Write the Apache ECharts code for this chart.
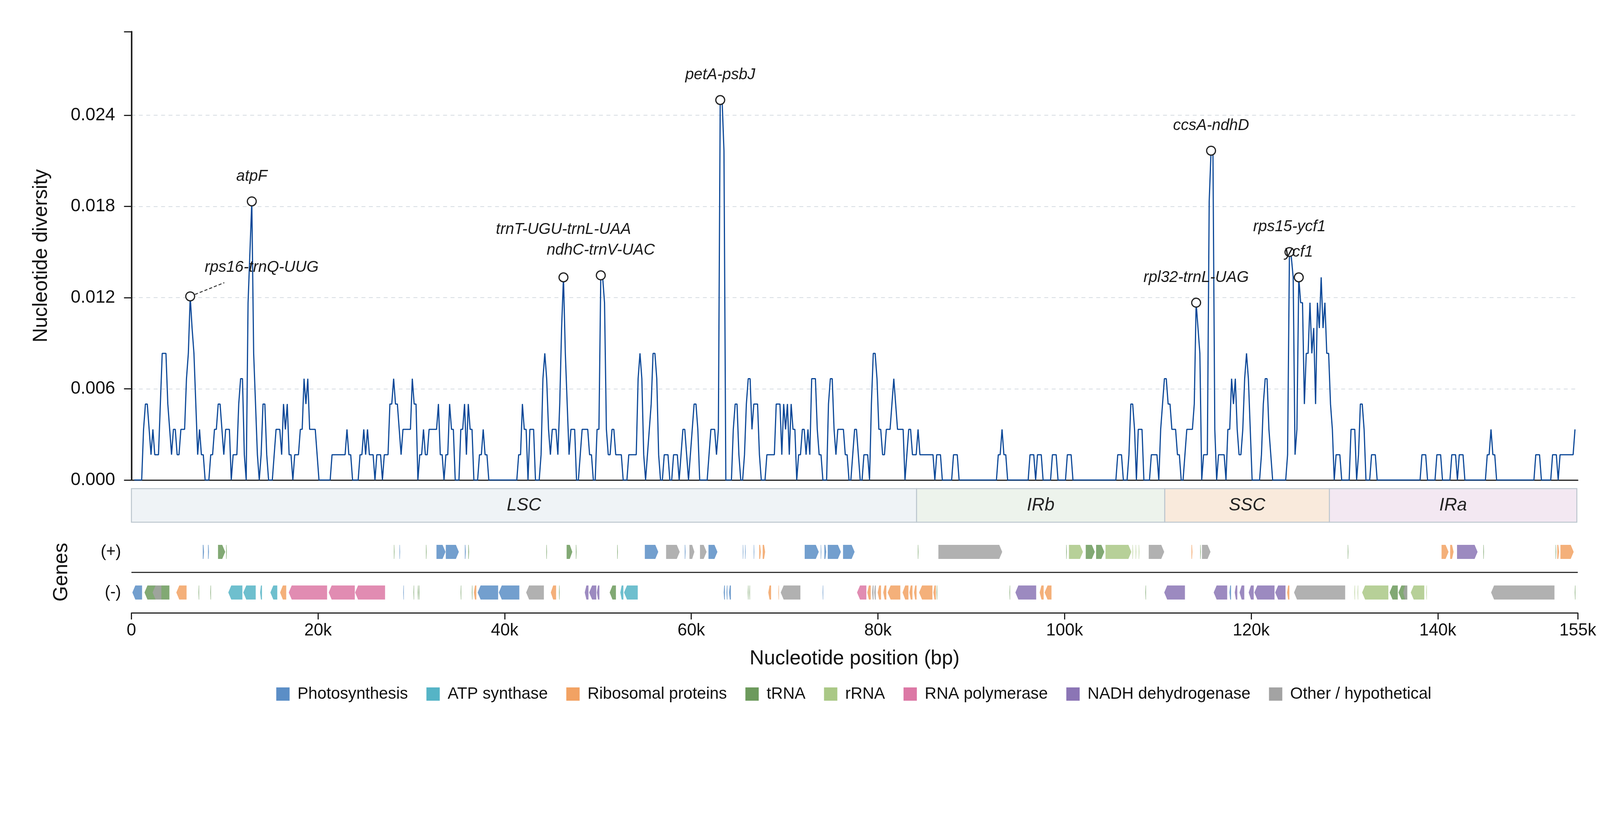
<!DOCTYPE html>
<html>
<head>
<meta charset="utf-8">
<title>Nucleotide diversity along the plastome</title>
<script src="https://cdn.jsdelivr.net/npm/echarts@6/dist/echarts.min.js"></script>
<style>
  html, body { margin: 0; padding: 0; background: #fff; overflow: hidden; }
  #chart { width: 100vw; height: 100vh; }
</style>
</head>
<body>
<div id="chart"></div>
<script>
// Sliding window: 600 bp windows, 200 bp step, first window centred at 300 bp.
// Values are differences per window (pi = diffs / 600).
const WINDOW_BP = 600;
const STEP_BP = 200;
const FIRST_MID_BP = 300;

const diffs000 = [
  0,0,0,0,0,2,3,3,2,1, 2,1,1,1,3,5,5,5,3,2,
  1,2,2,1,1,2,2,2,4,5, 7.25,6,5,3,1,2,1,1,0,0,
  0,1,1,2,2,3,3,2,1,2, 2,2,0,1,1,1,3,4,4,1,
  0,7,9,11,5,3,1,0,1,3, 3,1,0,0,0,1,2,2,2,1,
  3,2,3,1,1,0,1,1,1,2, 2,4,3,4,2,2,2,2,1,0
];
const diffs100 = [
  0,0,0,0,0,0,1,1,1,1, 1,1,1,1,2,1,1,0,0,0,
  0,1,1,2,1,2,1,1,1,0, 1,1,1,0,1,1,1,3,3,4,
  3,3,2,1,2,2,2,2,2,4, 3,3,0,1,1,2,1,1,2,2,
  2,2,2,3,1,1,0,1,1,3, 2,2,0,0,0,2,2,3,1,3,
  2,2,0,0,0,1,1,2,1,1, 0,0,0,0,0,0,0,0,0,0
];
const diffs200 = [
  0,0,0,0,0,0,1,1,3,2, 2,0,2,2,2,0,0,0,1,4,
  5,4,2,1,2,2,2,1,3,6, 8,5,3,1,2,2,2,0,0,1,
  2,2,2,2,1,1,0,0,2,2, 8.08,8,7,2,1,1,2,2,1,1,
  1,1,0,0,0,1,1,1,1,1, 4,5,4,1,0,1,2,3,5,5,
  4,1,0,0,1,1,1,0,0,1, 1,1,0,1,2,2,1,0,1,2
];
const diffs300 = [
  3,3,2,0,0,0,0,0,1,2, 2,2,1,2,15,15,13,0,0,0,
  0,2,3,3,1,0,0,1,3,4, 4,2,3,3,3,1,0,0,0,1,
  1,1,1,1,3,3,3,1,3,2, 3,1,3,2,2,0,1,1,2,2,
  1,2,1,4,4,4,2,1,1,0, 0,0,3,4,4,2,1,2,2,2,
  2,1,1,0,0,1,2,2,1,0, 0,1,1,1,0,3,5,5,4,2
];
const diffs400 = [
  2,1,1,2,2,2,3,4,3,2, 2,2,2,0,1,2,2,1,1,1,
  2,1,1,1,1,1,1,1,1,0, 1,1,1,0,0,0,0,0,0,1,
  1,1,0,0,0,0,0,0,0,0, 0,0,0,0,0,0,0,0,0,0,
  0,0,0,1,1,2,1,1,0,0, 0,0,0,0,0,0,0,0,0,0,
  1,1,1,0,1,1,1,0,0,0, 0,0,1,1,1,0,0,0,0,0
];
const diffs500 = [
  1,1,1,0,0,0,0,0,0,0, 0,0,0,0,0,0,0,0,0,0,
  0,0,0,0,0,0,0,1,1,1, 0,0,0,1,3,3,2,0,2,2,
  2,0,0,0,0,1,1,1,1,0, 2,3,4,4,3,3,2,2,2,1,
  1,0,0,1,2,2,2,2,3,7, 6,5,0,1,1,1,11,13,13,2,
  0,1,1,1,1,0,2,2,4,3, 4,2,1,1,2,4,5,4,2,0
];
const diffs600 = [
  0,0,0,0,1,3,4,4,2,1, 0,0,0,0,0,0,0,0,1,9,
  8.8,8,1,2,8,7,7,3,5,5, 7,5,6,3,7,6,8,6,7,5,
  5,3,2,0,1,1,1,0,0,0, 0,0,2,2,2,0,1,3,3,2,
  0,0,0,1,1,1,0,0,0,0, 0,0,0,0,0,0,0,0,0,0,
  0,0,0,0,0,0,0,0,0,0, 1,1,1,0,0,0,0,0,1,1
];
const diffs700 = [
  1,0,0,0,0,0,1,1,1,0, 1,1,1,0,0,0,0,0,0,0,
  0,0,0,0,0,1,1,2,1,1, 0,0,0,0,0,0,0,0,0,0,
  0,0,0,0,0,0,0,0,0,0, 0,1,1,1,0,0,0,0,0,0,
  1,1,1,0,1,1,1,1,1,1, 1,1,2
];
const windowDiffs = [].concat(diffs000, diffs100, diffs200, diffs300,
  diffs400, diffs500, diffs600, diffs700);

// Labelled hotspots (window centre, bp)
const peakNames = ['rps16-trnQ-UUG', 'atpF', 'trnT-UGU-trnL-UAA', 'ndhC-trnV-UAC',
  'petA-psbJ', 'rpl32-trnL-UAG', 'ccsA-ndhD', 'rps15-ycf1', 'ycf1'];
const peakPos = [6300, 12900, 46300, 50300, 63100, 114100, 115700, 124100, 125100];

// Quadripartite structure
const regionNames = ['LSC', 'IRb', 'SSC', 'IRa'];
const regionStart = [0, 84140, 110740, 128380];
const regionEnd = [84140, 110740, 128380, 154900];

// Gene categories
const categories = ['Photosynthesis', 'ATP synthase', 'Ribosomal proteins', 'tRNA',
  'rRNA', 'RNA polymerase', 'NADH dehydrogenase', 'Other / hypothetical'];

// Genes: [start, end, strand, category index]
const genesPlus = [
  [7650,7780,1,0],[8210,8310,1,0],[9280,10050,1,3],[10150,10220,1,3],[28130,28190,1,3],
  [28730,28790,1,0],[31570,31630,1,3],[32690,33660,1,0],[33690,35090,1,0],[35730,35830,1,0],
  [36100,36180,1,3],[44470,44530,1,3],[46640,47250,1,3],[47630,47700,1,3],[52060,52120,1,3],
  [55020,56460,1,0],[57300,58760,1,7],[59300,59380,1,0],[59800,60330,1,7],[60930,61640,1,7],
  [61840,62800,1,0],[65520,65580,1,0],[65760,65820,1,0],[66690,66750,1,0],[67280,67450,1,2],
  [67650,67910,1,2],[72150,73660,1,0],[73870,73930,1,0],[74260,74460,1,0],[74620,76030,1,0],
  [76260,77500,1,0],[84280,84340,1,3],[86480,93320,1,7],[100180,100240,1,3],[100470,101970,1,4],
  [102270,103240,1,3],[103380,104260,1,3],[104390,107160,1,4],[107280,107330,1,4],
  [107620,107670,1,4],[107950,108000,1,4],[109020,110680,1,7],[113600,113700,1,2],
  [114540,114600,1,3],[114730,115640,1,7],[130350,130410,1,3],[140400,141150,1,2],
  [141320,141690,1,2],[142060,144260,1,6],[144880,144940,1,3],[152620,152680,1,3],
  [152800,153000,1,2],[153140,154560,1,2]
];
const genesMinus = [
  [100,1140,-1,0],[1400,4070,-1,3],[2270,3210,-1,7],[4810,5910,-1,2],[7190,7250,-1,3],
  [8460,8520,-1,3],[10380,11890,-1,1],[11990,13320,-1,1],[13790,13990,-1,1],[14890,15630,-1,1],
  [15930,16590,-1,2],[16860,20970,-1,5],[21140,23940,-1,5],[23970,27180,-1,5],[29130,29190,-1,0],
  [30230,30290,-1,3],[30680,30740,-1,3],[30800,30860,-1,3],[35280,35340,-1,3],[36480,36540,-1,3],
  [36700,36960,-1,2],[37100,39300,-1,0],[39370,41570,-1,0],[42300,44200,-1,7],[44940,45510,-1,2],
  [45820,45880,-1,3],[48580,48980,-1,6],[49050,49820,-1,6],[49880,50150,-1,6],[51250,51920,-1,3],
  [52390,52720,-1,1],[52790,54260,-1,1],[63470,63600,-1,0],[63770,63870,-1,0],[64040,64240,-1,0],
  [66060,66120,-1,3],[66220,66280,-1,3],[68250,68550,-1,2],[69330,69390,-1,2],[69580,71690,-1,7],
  [74070,74130,-1,0],[77760,78760,-1,5],[78860,79230,-1,2],[79370,79530,-1,7],[79600,79770,-1,7],
  [79970,80330,-1,2],[80570,80900,-1,2],[81040,82400,-1,2],[82640,83270,-1,2],[83370,83700,-1,2],
  [83870,84140,-1,2],[84410,85840,-1,2],[85940,86210,-1,2],[86290,86350,-1,3],[94100,94160,-1,3],
  [94730,96960,-1,6],[97330,97760,-1,2],[97860,98600,-1,2],[108660,108720,-1,3],
  [110680,112900,-1,6],[115980,117430,-1,6],[117670,117840,-1,0],[118240,118510,-1,6],
  [118750,119260,-1,6],[119730,120270,-1,6],[120340,122500,-1,6],[122570,123680,-1,6],
  [123850,124090,-1,2],[124590,130070,-1,7],[131060,131120,-1,4],[131400,131460,-1,4],
  [131890,134700,-1,4],[134830,135710,-1,3],[135780,136720,-1,3],[136300,136720,-1,7],
  [137100,138550,-1,4],[138760,138820,-1,4],[145710,152500,-1,7],[154680,154740,-1,3]
];

const xMax = 155000;
const xTickStep = 20000;
const yMax = 0.0295;
const yTickStep = 0.006;

// ---- styles ----
const FONT = '"Liberation Sans", Arial, Helvetica, sans-serif';
const categoryColors = ['#5b8ec6', '#55b4c6', '#f2a263', '#6c9a5c',
  '#aac886', '#dc78a5', '#8b75b5', '#a3a3a3'];
const regionColors = ['#eff3f6', '#edf3ec', '#f9eadc', '#f3e8f2'];
const peakLabelOffset = {
  'rps16-trnQ-UUG': [193, -74],
  'trnT-UGU-trnL-UAA': [0, -122]
};
const DEFAULT_LABEL_OFFSET = [0, -64];

// layout is designed on a 4322 x 2102 canvas and scaled to the real window
const el = document.getElementById('chart');
const W = el.clientWidth || 4322;
const H = el.clientHeight || 2102;
const sx = W / 4322;
const sy = H / 2102;
const X = function (v) { return v * sx; };
const Y = function (v) { return v * sy; };
const F = function (v) { return v * Math.min(sx, sy); };

const chart = echarts.init(el);

const lineData = windowDiffs.map(function (d, i) {
  return [FIRST_MID_BP + i * STEP_BP, d / WINDOW_BP];
});

const peakData = peakNames.map(function (name, k) {
  const i = Math.round((peakPos[k] - FIRST_MID_BP) / STEP_BP);
  return { name: name, value: [peakPos[k], windowDiffs[i] / WINDOW_BP] };
});

const regionData = regionNames.map(function (n, k) {
  return [regionStart[k], regionEnd[k], k];
});

const allGenes = genesPlus.concat(genesMinus);

function renderGene(params, api) {
  const start = api.value(0);
  const end = api.value(1);
  const strand = api.value(2);
  const yc = api.coord([0, strand > 0 ? 1.5 : 0.5])[1];
  let x0 = api.coord([start, 0])[0];
  let x1 = api.coord([end, 0])[0];
  if (x1 - x0 < 1.5) x1 = x0 + 1.5;
  const w = x1 - x0;
  const tip = Math.min(X(8), w * 0.45);
  const h = Y(18);
  let pts;
  if (strand > 0) {
    pts = [[x0, yc - h], [x1 - tip, yc - h], [x1, yc], [x1 - tip, yc + h], [x0, yc + h]];
  } else {
    pts = [[x1, yc - h], [x0 + tip, yc - h], [x0, yc], [x0 + tip, yc + h], [x1, yc + h]];
  }
  return {
    type: 'polygon',
    shape: { points: pts },
    style: { fill: api.visual('color'), opacity: 0.85 }
  };
}

function renderRegion(params, api) {
  const k = api.value(2);
  const tl = api.coord([api.value(0), 1]);
  const br = api.coord([api.value(1), 0]);
  return {
    type: 'group',
    children: [
      {
        type: 'rect',
        shape: { x: tl[0], y: tl[1], width: br[0] - tl[0], height: br[1] - tl[1] },
        style: { fill: regionColors[k], stroke: '#bcc6ce', lineWidth: 2.5 }
      },
      {
        type: 'text',
        style: {
          text: regionNames[k],
          x: (tl[0] + br[0]) / 2,
          y: (tl[1] + br[1]) / 2,
          align: 'center',
          verticalAlign: 'middle',
          textAlign: 'center',
          textVerticalAlign: 'middle',
          font: 'italic ' + F(48) + 'px ' + FONT,
          fill: '#222'
        }
      }
    ]
  };
}

const geneSeries = categories.map(function (cat, c) {
  const s = {
    name: cat,
    type: 'custom',
    coordinateSystem: 'cartesian2d',
    xAxisIndex: 2,
    yAxisIndex: 2,
    itemStyle: { color: categoryColors[c] },
    renderItem: renderGene,
    encode: { x: [0, 1], y: 2 },
    data: allGenes.filter(function (g) { return g[3] === c; })
      .map(function (g) { return [g[0], g[1], g[2]]; }),
    z: 2
  };
  if (c === 0) {
    s.markLine = {
      silent: true,
      symbol: 'none',
      label: { show: false },
      lineStyle: { color: '#333', width: 3, type: 'solid' },
      data: [{ yAxis: 1 }]
    };
  }
  return s;
});

const axisFont = { fontFamily: FONT, color: '#111' };
const gridLeft = X(355);
const gridRight = X(60);

const option = {
  animation: false,
  backgroundColor: '#fff',
  textStyle: { fontFamily: FONT },
  grid: [
    { left: gridLeft, right: gridRight, top: Y(81), height: Y(1148) },
    { left: gridLeft, right: gridRight, top: Y(1251), height: Y(86) },
    { left: gridLeft, right: gridRight, top: Y(1361), height: Y(208) }
  ],
  xAxis: [
    {
      gridIndex: 0, type: 'value', min: 0, max: xMax, interval: xTickStep,
      axisLine: { show: true, onZero: false, lineStyle: { color: '#222', width: 3 } },
      axisTick: { show: false }, axisLabel: { show: false }, splitLine: { show: false }
    },
    {
      gridIndex: 1, type: 'value', min: 0, max: xMax, show: false
    },
    {
      gridIndex: 2, type: 'value', min: 0, max: xMax, interval: xTickStep,
      name: 'Nucleotide position (bp)', nameLocation: 'middle', nameGap: Y(92),
      nameTextStyle: Object.assign({ fontSize: F(54) }, axisFont),
      axisLine: { show: true, onZero: false, lineStyle: { color: '#222', width: 3 } },
      axisTick: { show: true, length: Y(17), lineStyle: { color: '#222', width: 3 } },
      axisLabel: Object.assign({
        fontSize: F(46), margin: Y(24),
        formatter: function (v) { return v === 0 ? '0' : (v / 1000) + 'k'; }
      }, axisFont),
      splitLine: { show: false }
    }
  ],
  yAxis: [
    {
      gridIndex: 0, type: 'value', min: 0, max: yMax, interval: yTickStep,
      name: 'Nucleotide diversity', nameLocation: 'middle', nameGap: X(216),
      nameTextStyle: Object.assign({ fontSize: F(54) }, axisFont),
      axisLine: { show: true, lineStyle: { color: '#222', width: 4 } },
      axisTick: { show: true, length: X(20), lineStyle: { color: '#222', width: 3 } },
      axisLabel: Object.assign({
        fontSize: F(48), margin: X(44), showMaxLabel: false,
        formatter: function (v) { return v.toFixed(3); }
      }, axisFont),
      splitLine: {
        show: true, showMinLine: false, showMaxLine: false,
        lineStyle: { color: '#d6dce2', width: 2, type: [10, 9] }
      }
    },
    {
      gridIndex: 1, type: 'value', min: 0, max: 1, show: false
    },
    {
      gridIndex: 2, type: 'value', min: 0, max: 2, interval: 0.5,
      name: 'Genes', nameLocation: 'middle', nameGap: X(161),
      nameTextStyle: Object.assign({ fontSize: F(54) }, axisFont),
      axisLine: { show: false }, axisTick: { show: false }, splitLine: { show: false },
      axisLabel: Object.assign({
        fontSize: F(44), margin: X(28),
        formatter: function (v) {
          if (v === 1.5) return '(+)';
          if (v === 0.5) return '(-)';
          return '';
        }
      }, axisFont)
    },
    {
      // only draws the end tick at the top of the diversity axis
      gridIndex: 0, type: 'value', min: 0, max: yMax, interval: yMax,
      position: 'left',
      axisLine: { show: false },
      axisTick: { show: true, length: X(20), lineStyle: { color: '#222', width: 3 } },
      axisLabel: { show: false },
      splitLine: { show: false }
    }
  ],
  legend: {
    data: categories,
    left: X(741),
    top: Y(1751),
    icon: 'rect',
    itemWidth: F(36),
    itemHeight: F(36),
    itemGap: X(50),
    textStyle: { fontSize: F(44), color: '#111', fontFamily: FONT, padding: [0, 0, 0, X(16)] }
  },
  series: [
    {
      name: 'Pi',
      type: 'line',
      xAxisIndex: 0,
      yAxisIndex: 0,
      data: lineData,
      symbol: 'none',
      showSymbol: false,
      lineStyle: { color: '#0c4898', width: 3 },
      z: 3
    },
    {
      name: 'Hotspots',
      type: 'scatter',
      xAxisIndex: 0,
      yAxisIndex: 0,
      data: peakData,
      symbol: 'circle',
      symbolSize: F(24),
      itemStyle: { color: '#fff', borderColor: '#222', borderWidth: 3, opacity: 1 },
      label: {
        show: true, position: 'inside', formatter: '{b}',
        fontStyle: 'italic', fontSize: F(42), color: '#1a1a1a', fontFamily: FONT
      },
      labelLayout: function (params) {
        const off = peakLabelOffset[peakNames[params.dataIndex]] || DEFAULT_LABEL_OFFSET;
        return { dx: X(off[0]), dy: Y(off[1]), hideOverlap: false };
      },
      z: 5
    },
    {
      name: 'Regions',
      type: 'custom',
      coordinateSystem: 'cartesian2d',
      xAxisIndex: 1,
      yAxisIndex: 1,
      renderItem: renderRegion,
      encode: { x: [0, 1] },
      data: regionData,
      silent: true
    }
  ].concat(geneSeries)
};

chart.setOption(option);

// dashed leader from the rps16-trnQ-UUG hotspot towards its label
const p = chart.convertToPixel({ gridIndex: 0 }, peakData[0].value);
chart.setOption({
  graphic: [{
    type: 'line',
    silent: true,
    z: 10,
    shape: { x1: p[0] + X(13), y1: p[1] - Y(5), x2: p[0] + X(92), y2: p[1] - Y(35) },
    style: { stroke: '#333', lineWidth: 2.5, lineDash: [8, 5] }
  }]
});

window.addEventListener('resize', function () { chart.resize(); });
</script>
</body>
</html>
